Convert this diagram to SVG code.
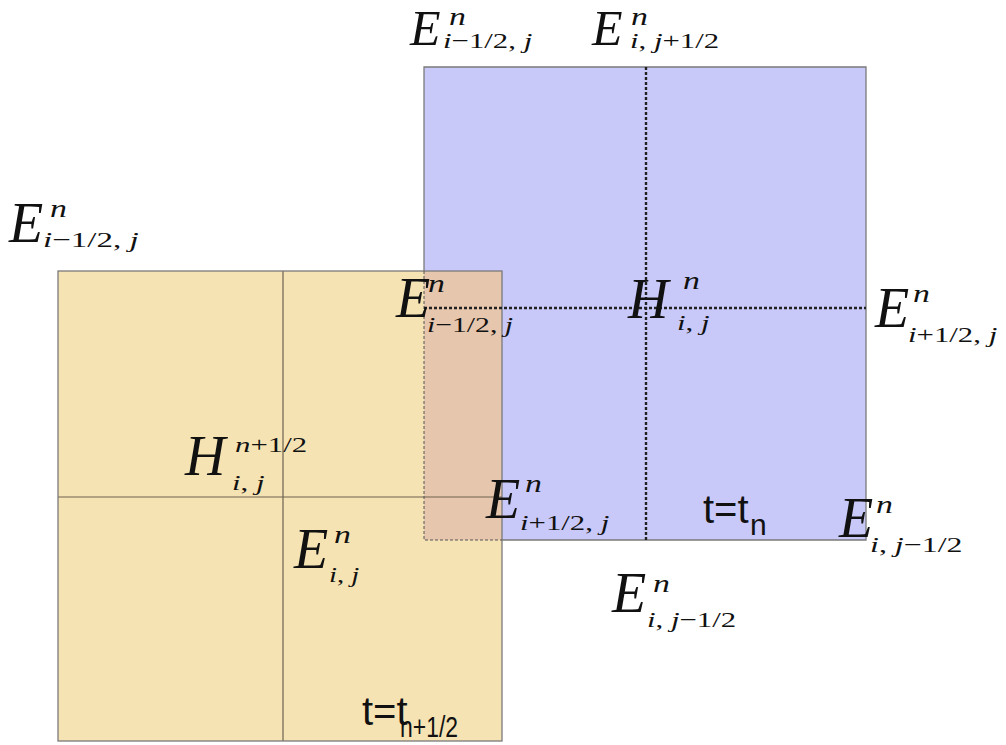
<svg xmlns="http://www.w3.org/2000/svg" width="1006" height="745" viewBox="0 0 1006 745">
<style>
.m{font-family:"Liberation Serif",serif;font-style:italic;font-size:56px;fill:#111}
.m2{font-family:"Liberation Serif",serif;font-style:italic;font-size:50px;fill:#111}
.h{font-family:"Liberation Serif",serif;font-style:italic;font-size:56px;fill:#111}
.s{font-family:"Liberation Serif",serif;font-style:italic;font-size:26px;fill:#111}
.b{font-family:"Liberation Serif",serif;font-size:22px;fill:#111}
.i{font-style:italic}
.t{font-family:"Liberation Sans",sans-serif;font-size:40px;fill:#111}
.ts{font-family:"Liberation Sans",sans-serif;font-size:30px;fill:#111}
.solid{fill:none;stroke:#7a7a7a;stroke-width:1.3}
.grid{fill:none;stroke:#6e6250;stroke-width:1.2}
.dash{fill:none;stroke:#222;stroke-width:2.4;stroke-dasharray:3 2}
.dashthin{fill:none;stroke:#555;stroke-width:1;stroke-dasharray:3 2}
</style>
<rect width="1006" height="745" fill="#fff"/>
<g id="cell-yellow">
<rect x="58" y="271" width="444" height="470" fill="#f6e3b4"/>
</g>
<g id="cell-blue">
<rect x="424" y="67" width="442" height="473" fill="#c9c9f9"/>
<rect x="424" y="271" width="78" height="269" fill="#e6c6ad"/>
</g>
<g id="connectors">
<line class="grid" x1="283" y1="271" x2="283" y2="741"/>
<line class="grid" x1="58" y1="497" x2="502" y2="497"/>
<rect class="solid" x="58" y="271" width="444" height="470"/>
<path class="solid" d="M424,271 V67 H866 V540 H502"/>
<path class="dashthin" d="M424,271 V540 H502"/>
<line class="dash" x1="646" y1="67" x2="646" y2="540"/>
<line class="dash" x1="424" y1="308" x2="866" y2="308"/>
</g>
<g id="label-e-top-left">
<text class="m2" x="410" y="45">E</text>
<text class="s" transform="translate(449,25) scale(1.3,1)">n</text>
<text class="b" transform="translate(443,48) scale(1.4,1)"><tspan class="i">i</tspan>−1/2, <tspan class="i">j</tspan></text>
</g>
<g id="label-e-top-center">
<text class="m2" x="592" y="45">E</text>
<text class="s" transform="translate(631,25) scale(1.3,1)">n</text>
<text class="b" transform="translate(630,48) scale(1.4,1)"><tspan class="i">i</tspan>, <tspan class="i">j</tspan>+1/2</text>
</g>
<g id="label-e-left">
<text class="m" x="9" y="242">E</text>
<text class="s" transform="translate(50,217) scale(1.3,1)">n</text>
<text class="b" transform="translate(43,247) scale(1.5,1)"><tspan class="i">i</tspan>−1/2, <tspan class="i">j</tspan></text>
</g>
<g id="label-e-overlap">
<text class="m" x="396" y="317" font-size="53">E</text>
<text class="s" transform="translate(428,292) scale(1.3,1)">n</text>
<text class="b" transform="translate(427,332) scale(1.35,1)" fill="#555"><tspan class="i">i</tspan>−1/2, <tspan class="i">j</tspan></text>
</g>
<g id="label-h-n">
<text class="h" x="628" y="318">H</text>
<text class="s" transform="translate(683,289) scale(1.3,1)">n</text>
<text class="b" transform="translate(677,330) scale(1.4,1)"><tspan class="i">i</tspan>, <tspan class="i">j</tspan></text>
</g>
<g id="label-e-right">
<text class="m" x="875" y="327" font-size="52">E</text>
<text class="s" transform="translate(913,302) scale(1.3,1)">n</text>
<text class="b" transform="translate(908,342) scale(1.4,1)"><tspan class="i">i</tspan>+1/2, <tspan class="i">j</tspan></text>
</g>
<g id="label-e-lower">
<text class="m" x="486" y="518">E</text>
<text class="s" transform="translate(525,492) scale(1.3,1)">n</text>
<text class="b" transform="translate(520,530) scale(1.4,1)"><tspan class="i">i</tspan>+1/2, <tspan class="i">j</tspan></text>
</g>
<g id="label-t-n">
<text class="t" x="703" y="523">t=t</text>
<text class="ts" x="750" y="535">n</text>
</g>
<g id="label-e-right-bottom">
<text class="m" x="839" y="537">E</text>
<text class="s" transform="translate(876,513) scale(1.3,1)">n</text>
<text class="b" transform="translate(870,552) scale(1.45,1)"><tspan class="i">i</tspan>, <tspan class="i">j</tspan>−1/2</text>
</g>
<g id="label-e-bottom">
<text class="m" x="612" y="612">E</text>
<text class="s" transform="translate(653,592) scale(1.3,1)">n</text>
<text class="b" transform="translate(647,627) scale(1.4,1)"><tspan class="i">i</tspan>, <tspan class="i">j</tspan>−1/2</text>
</g>
<g id="label-h-half">
<text class="h" x="185" y="475">H</text>
<text class="b" transform="translate(235,452) scale(1.4,1)"><tspan class="i">n</tspan>+1/2</text>
<text class="b" transform="translate(232,490) scale(1.4,1)"><tspan class="i">i</tspan>, <tspan class="i">j</tspan></text>
</g>
<g id="label-e-ij">
<text class="m" x="294" y="568">E</text>
<text class="s" transform="translate(334,543) scale(1.3,1)">n</text>
<text class="b" transform="translate(329,582) scale(1.3,1)"><tspan class="i">i</tspan>, <tspan class="i">j</tspan></text>
</g>
<g id="label-t-half">
<text class="t" x="362" y="725" font-size="32">t=t</text>
<text class="ts" x="400" y="737" font-size="20" textLength="58" lengthAdjust="spacingAndGlyphs">n+1/2</text>
</g>
</svg>
